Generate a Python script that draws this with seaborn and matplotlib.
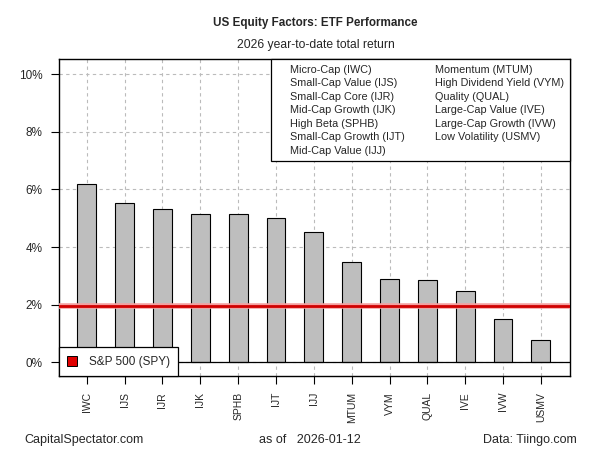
import matplotlib
matplotlib.use('Agg')

import numpy as np
import pandas as pd
import matplotlib.pyplot as plt
import seaborn as sns
from matplotlib.patches import Patch
from matplotlib.lines import Line2D

# ==============================
# DATA
# ==============================
tickers = ["IWC", "IJS", "IJR", "IJK", "SPHB", "IJT", "IJJ",
           "MTUM", "VYM", "QUAL", "IVE", "IVW", "USMV"]
names = ["Micro-Cap (IWC)", "Small-Cap Value (IJS)", "Small-Cap Core (IJR)",
         "Mid-Cap Growth (IJK)", "High Beta (SPHB)", "Small-Cap Growth (IJT)",
         "Mid-Cap Value (IJJ)", "Momentum (MTUM)", "High Dividend Yield (VYM)",
         "Quality (QUAL)", "Large-Cap Value (IVE)", "Large-Cap Growth (IVW)",
         "Low Volatility (USMV)"]
returns = [6.17, 5.52, 5.31, 5.14, 5.14, 5.00, 4.51,
           3.47, 2.88, 2.85, 2.46, 1.49, 0.76]
spy_return = 1.97
y_ticks = [0, 2, 4, 6, 8, 10]

df = pd.DataFrame({"ticker": tickers, "ret": returns})

# ==============================
# PLOT
# ==============================
sns.set_style("white")
plt.rcParams['font.family'] = ['Liberation Sans', 'DejaVu Sans']

fig = plt.figure(figsize=(6, 4.5), dpi=100)
ax = fig.add_axes([0.0988, 0.1644, 0.8512, 0.7036])

sns.barplot(data=df, x="ticker", y="ret", color="#bebebe", edgecolor="black",
            linewidth=0.8, width=0.5, saturation=1, ax=ax, zorder=2)

# grid has to come after barplot (it switches the x grid off)
ax.xaxis.grid(True, color="#bbbbbb", linestyle=(0, (3, 3)), linewidth=0.8)
ax.yaxis.grid(True, color="#bbbbbb", linestyle=(0, (3, 3)), linewidth=0.8)
ax.set_axisbelow(True)

ax.axhline(0, color="black", linewidth=0.9, zorder=3)
ax.axhline(spy_return, color="#f4a0a0", linewidth=4, zorder=3)
ax.axhline(spy_return, color="#d00000", linewidth=2, zorder=4)

ax.set_xlim(-0.727, 12.77)
ax.set_ylim(-0.475, 10.51)
ax.set_yticks(y_ticks)
ax.set_yticklabels([f"{t}%" for t in y_ticks], fontsize=8.5)
ax.set_xticks(range(len(tickers)))
ax.set_xticklabels(tickers, rotation=90, fontsize=7.5)
ax.tick_params(axis="both", direction="out", length=5.5, width=0.8,
               color="black", bottom=True, left=True)
ax.tick_params(axis="y", pad=6.5)
ax.tick_params(axis="x", pad=6)
ax.set_xlabel("")
ax.set_ylabel("")
for s in ax.spines.values():
    s.set_color("black")
    s.set_linewidth(1)

# name legend, top right
blank = [Patch(visible=False)] * len(names)
leg1 = ax.legend(blank, names, ncol=2, loc="upper right", fontsize=7.8,
                 handlelength=1.0, handletextpad=0.3, columnspacing=1.5,
                 labelspacing=0.32, borderpad=0.52, borderaxespad=0,
                 fancybox=False, edgecolor="black", framealpha=1)
leg1.get_frame().set_linewidth(0.9)
ax.add_artist(leg1)

# benchmark legend, bottom left
spy_handle = Line2D([], [], marker="s", linestyle="none", markersize=6.5,
                    markerfacecolor="#e00000", markeredgecolor="black",
                    markeredgewidth=0.7)
leg2 = ax.legend([spy_handle], ["S&P 500 (SPY)"], loc="lower left",
                 fontsize=8.5, borderaxespad=0, fancybox=False,
                 edgecolor="black", framealpha=1, handlelength=0.8,
                 handletextpad=1.0, borderpad=0.7)
leg2.get_frame().set_linewidth(0.9)
leg2.set_zorder(5)

fig.text(0.526, 0.948, "US Equity Factors: ETF Performance", ha="center",
         va="center", fontsize=8.4, fontweight="bold")
fig.text(0.526, 0.9, "2026 year-to-date total return", ha="center",
         va="center", fontsize=8.7)
fig.text(0.04, 0.022, "CapitalSpectator.com", ha="left", va="center", fontsize=9)
fig.text(0.516, 0.022, "as of   2026-01-12", ha="center", va="center", fontsize=9)
fig.text(0.962, 0.022, "Data: Tiingo.com", ha="right", va="center", fontsize=9)

fig.savefig("out.png", dpi=100)
plt.close()
